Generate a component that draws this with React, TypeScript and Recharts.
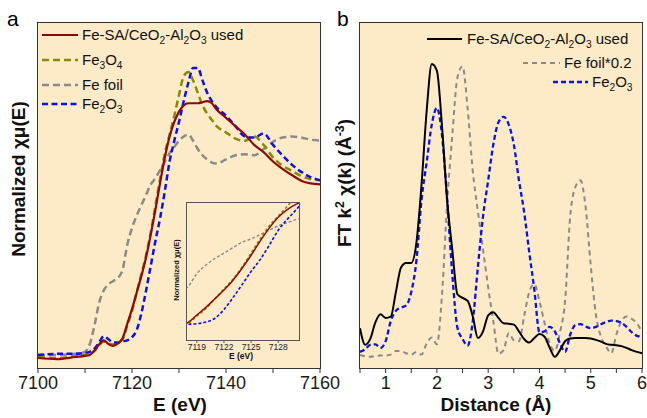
import React from 'react';
import { LineChart, Line, XAxis, YAxis } from 'recharts';

// ---- panel a: Fe K-edge XANES ----
const energy = [7100, 7104, 7108, 7110, 7111, 7112, 7113, 7114, 7115, 7116, 7117, 7118, 7119, 7120, 7121, 7122, 7123, 7124, 7125, 7126, 7127, 7128, 7129, 7130, 7131, 7132, 7133, 7134, 7135, 7136, 7137, 7138, 7140, 7142, 7144, 7146, 7148, 7150, 7152, 7154, 7156, 7158, 7160];
const feSaUsed = [-0.005, -0.01, 0.0, 0.005, 0.01, 0.03, 0.06, 0.08, 0.062, 0.053, 0.065, 0.09, 0.16, 0.23, 0.31, 0.39, 0.48, 0.59, 0.71, 0.84, 0.96, 1.06, 1.13, 1.18, 1.21, 1.22, 1.22, 1.22, 1.225, 1.23, 1.22, 1.19, 1.15, 1.11, 1.07, 1.02, 0.985, 0.94, 0.905, 0.875, 0.848, 0.835, 0.83];
const fe3o4 = [0.0, -0.005, 0.005, 0.01, 0.015, 0.03, 0.055, 0.075, 0.065, 0.06, 0.07, 0.085, 0.15, 0.22, 0.31, 0.4, 0.49, 0.6, 0.73, 0.86, 0.98, 1.07, 1.16, 1.26, 1.35, 1.37, 1.33, 1.27, 1.21, 1.17, 1.14, 1.11, 1.08, 1.05, 1.04, 1.06, 1.02, 0.96, 0.92, 0.895, 0.87, 0.855, 0.85];
const feFoil = [0.01, 0.01, 0.015, 0.025, 0.06, 0.15, 0.26, 0.32, 0.35, 0.365, 0.38, 0.42, 0.54, 0.62, 0.68, 0.73, 0.78, 0.83, 0.86, 0.9, 0.94, 0.98, 1.01, 1.04, 1.06, 1.07, 1.04, 1.0, 0.97, 0.95, 0.935, 0.93, 0.95, 0.97, 0.975, 0.97, 1.0, 1.035, 1.055, 1.06, 1.055, 1.045, 1.04];
const fe2o3 = [0.01, 0.015, 0.015, 0.02, 0.025, 0.04, 0.07, 0.1, 0.085, 0.07, 0.07, 0.075, 0.08, 0.095, 0.13, 0.21, 0.32, 0.44, 0.56, 0.67, 0.8, 0.94, 1.04, 1.13, 1.23, 1.32, 1.39, 1.39, 1.33, 1.27, 1.23, 1.2, 1.16, 1.11, 1.06, 1.055, 1.075, 1.02, 0.97, 0.925, 0.89, 0.865, 0.85];
const energyTicks = [7100, 7110, 7120, 7130, 7140, 7150, 7160];
const insetTicks = [7119, 7122, 7125, 7128];
const xanesYTicks = [0, 0.2, 0.4, 0.6, 0.8, 1.0, 1.2, 1.4, 1.6];

// ---- panel b: FT-EXAFS ----
const distance = [0.5, 0.6, 0.7, 0.8, 0.9, 1.0, 1.1, 1.2, 1.3, 1.4, 1.5, 1.6, 1.7, 1.8, 1.9, 2.0, 2.1, 2.2, 2.3, 2.4, 2.5, 2.6, 2.7, 2.8, 2.9, 3.0, 3.1, 3.2, 3.3, 3.4, 3.5, 3.6, 3.7, 3.8, 3.9, 4.0, 4.1, 4.2, 4.3, 4.4, 4.5, 4.6, 4.7, 4.8, 4.9, 5.0, 5.1, 5.2, 5.3, 5.4, 5.5, 5.6, 5.7, 5.8, 5.9, 6.0];
const ftFeSa = [0.69, 0.32, 0.45, 0.82, 1.0, 0.92, 0.95, 1.5, 2.05, 2.15, 2.15, 2.6, 3.9, 5.55, 6.6, 6.45, 5.2, 3.55, 2.45, 1.45, 1.37, 1.3, 0.95, 0.47, 0.62, 0.98, 1.05, 0.92, 0.8, 0.79, 0.77, 0.62, 0.45, 0.37, 0.47, 0.56, 0.5, 0.25, 0.05, 0.2, 0.4, 0.46, 0.47, 0.47, 0.47, 0.46, 0.43, 0.39, 0.34, 0.32, 0.31, 0.29, 0.25, 0.2, 0.16, 0.13];
const ftFeFoil = [0.09, 0.06, 0.05, 0.07, 0.08, 0.08, 0.1, 0.18, 0.18, 0.13, 0.1, 0.16, 0.1, 0.35, 0.48, 0.33, 1.45, 3.5, 5.0, 6.3, 6.55, 5.6, 4.2, 3.3, 2.45, 1.6, 0.85, 0.12, 0.2, 0.58, 0.42, 0.4, 0.95, 1.5, 1.68, 1.3, 0.8, 0.35, 0.18, 0.6, 1.3, 3.2, 3.85, 4.0, 3.4, 2.1, 1.0, 0.5, 0.28, 0.13, 0.55, 0.85, 0.95, 0.9, 0.8, 0.6];
const ftFe2o3 = [0.16, 0.22, 0.32, 0.33, 0.25, 0.4, 0.85, 1.08, 1.15, 1.2, 1.5, 2.2, 3.56, 4.4, 5.25, 5.62, 5.0, 3.56, 1.9, 0.7, 0.45, 0.3, 0.85, 2.07, 3.2, 4.0, 4.8, 5.3, 5.42, 5.25, 4.8, 4.0, 3.3, 2.4, 1.55, 0.6, 0.62, 0.72, 0.62, 0.35, 0.16, 0.55, 0.76, 0.78, 0.73, 0.69, 0.72, 0.78, 0.83, 0.86, 0.85, 0.81, 0.72, 0.6, 0.52, 0.5];
const distanceTicks = [0.5, 1, 1.5, 2, 2.5, 3, 3.5, 4, 4.5, 5, 5.5, 6];
const ftYTicks = [0, 1, 2, 3, 4, 5, 6, 7];

const xanesRows = energy.map((e, i) => ({ e, sa: feSaUsed[i], o4: fe3o4[i], foil: feFoil[i], o3: fe2o3[i] }));
const ftRows = distance.map((r, i) => ({ r, sa: ftFeSa[i], foil: ftFeFoil[i], o3: ftFe2o3[i] }));

const FONT = 'Arial, "Liberation Sans", Helvetica, sans-serif';
const BG = '#FDEBC8';
const FRAME = '#333';
const RED = '#8E0A0A';
const OLIVE = '#8A8A00';
const GRAY = '#8A8A8A';
const BLUE = '#0A10F5';

const Sub = ({ children }: { children: React.ReactNode }) => (
  <span style={{ fontSize: '0.68em', position: 'relative', top: '0.38em' }}>{children}</span>
);
const Sup = ({ children }: { children: React.ReactNode }) => (
  <span style={{ fontSize: '0.65em', position: 'relative', top: '-0.55em' }}>{children}</span>
);

function Box({ left, top, width, height, fill, border }: { left: number; top: number; width: number; height: number; fill?: string; border?: string }) {
  return (
    <div style={{
      position: 'absolute', left, top, width, height, boxSizing: 'border-box',
      background: fill || 'transparent', border: border || 'none', pointerEvents: 'none',
    }} />
  );
}

function LegendRow({ x1, x2, y, textX, color, dash, sw, children }: { x1: number; x2: number; y: number; textX: number; color: string; dash?: string; sw: number; children: React.ReactNode }) {
  return (
    <>
      <svg style={{ position: 'absolute', left: x1, top: y - 4 }} width={x2 - x1} height={8}>
        <line x1={0} x2={x2 - x1} y1={4} y2={4} stroke={color} strokeWidth={sw} strokeDasharray={dash} />
      </svg>
      <div style={{ position: 'absolute', left: textX, top: y - 9, fontSize: 15, lineHeight: '17px', whiteSpace: 'nowrap', color: '#111' }}>
        {children}
      </div>
    </>
  );
}

function RotLabel({ cx, cy, size, children }: { cx: number; cy: number; size: number; children: React.ReactNode }) {
  return (
    <div style={{
      position: 'absolute', left: cx, top: cy, fontSize: size, fontWeight: 'bold', lineHeight: 1,
      whiteSpace: 'nowrap', transform: 'translate(-50%, -50%) rotate(-90deg)', color: '#111',
    }}>{children}</div>
  );
}

function Label({ cx, top, size, bold, children }: { cx: number; top: number; size: number; bold?: boolean; children: React.ReactNode }) {
  return (
    <div style={{
      position: 'absolute', left: cx, top, fontSize: size, fontWeight: bold ? 'bold' : 'normal', lineHeight: 1,
      whiteSpace: 'nowrap', transform: 'translateX(-50%)', color: '#111',
    }}>{children}</div>
  );
}

const tickStyle = { fontSize: 18, fill: '#1a1a1a', fontFamily: FONT };

export default function App() {
  return (
    <div style={{ position: 'absolute', left: 0, top: 0, width: 647, height: 418, background: '#fff', fontFamily: FONT, overflow: 'hidden' }}>
      <Box left={38} top={23} width={282} height={345} fill={BG} />
      <Box left={360} top={23} width={282} height={345} fill={BG} />

      {/* panel a (wider than its frame so the 7160 label is not cut) */}
      <div style={{ position: 'absolute', left: 0, top: 0 }}>
        <LineChart width={350} height={418} data={xanesRows} margin={{ top: 23, right: 30, left: 0, bottom: 0 }}>
          <XAxis dataKey="e" type="number" domain={[7100, 7160]} ticks={energyTicks} interval={0}
            tickFormatter={v => (v % 20 === 0 ? String(v) : '')} tick={tickStyle}
            axisLine={false} tickLine={{ stroke: FRAME }} tickSize={5} tickMargin={3} height={50} />
          <YAxis type="number" domain={[-0.053, 1.606]} ticks={xanesYTicks} interval={0} tick={false}
            axisLine={false} tickLine={{ stroke: FRAME }} tickSize={5} width={38} />
          <Line type="monotone" dataKey="foil" stroke={GRAY} strokeWidth={2.5} strokeDasharray="7 4" dot={false} isAnimationActive={false} />
          <Line type="monotone" dataKey="o4" stroke={OLIVE} strokeWidth={2.5} strokeDasharray="7 4" dot={false} isAnimationActive={false} />
          <Line type="monotone" dataKey="o3" stroke={BLUE} strokeWidth={2.5} strokeDasharray="6 3.5" dot={false} isAnimationActive={false} />
          <Line type="monotone" dataKey="sa" stroke={RED} strokeWidth={2.2} dot={false} isAnimationActive={false} />
        </LineChart>
      </div>

      {/* panel b */}
      <div style={{ position: 'absolute', left: 330, top: 0 }}>
        <LineChart width={317} height={418} data={ftRows} margin={{ top: 23, right: 5, left: 0, bottom: 0 }}>
          <XAxis dataKey="r" type="number" domain={[0.5, 6]} ticks={distanceTicks} interval={0}
            tickFormatter={v => (Number.isInteger(v) ? String(v) : '')} tick={tickStyle}
            axisLine={false} tickLine={{ stroke: FRAME }} tickSize={5} tickMargin={3} height={50} />
          <YAxis type="number" domain={[-0.2, 7.52]} ticks={ftYTicks} interval={0} tick={false}
            axisLine={false} tickLine={{ stroke: FRAME }} tickSize={5} width={30} />
          <Line type="monotone" dataKey="foil" stroke={GRAY} strokeWidth={2} strokeDasharray="5 4" dot={false} isAnimationActive={false} />
          <Line type="monotone" dataKey="o3" stroke={BLUE} strokeWidth={2.3} strokeDasharray="5 3" dot={false} isAnimationActive={false} />
          <Line type="monotone" dataKey="sa" stroke="#000" strokeWidth={2} dot={false} isAnimationActive={false} />
        </LineChart>
      </div>

      <Box left={37} top={22} width={284} height={347} border={`1.6px solid ${FRAME}`} />
      <Box left={359} top={22} width={284} height={347} border={`1.6px solid ${FRAME}`} />

      {/* inset of panel a */}
      <Box left={186} top={202} width={113} height={138} fill={BG} />
      <div style={{ position: 'absolute', left: 170, top: 195 }}>
        <LineChart width={135} height={170} data={xanesRows} margin={{ top: 7, right: 6, left: 0, bottom: 0 }}>
          <XAxis dataKey="e" type="number" domain={[7117.8, 7130.3]} allowDataOverflow ticks={insetTicks} interval={0}
            tick={{ fontSize: 8.5, fill: '#222', fontFamily: FONT }} axisLine={false}
            tickLine={{ stroke: '#555' }} tickSize={3} tickMargin={1} height={25} />
          <YAxis type="number" domain={[-0.07, 1.2]} allowDataOverflow ticks={[0, 0.2, 0.4, 0.6, 0.8, 1.0]} interval={0}
            tick={false} axisLine={false} tickLine={{ stroke: '#555' }} tickSize={3} width={16} />
          <Line type="monotone" dataKey="foil" stroke={GRAY} strokeWidth={1.4} strokeDasharray="3 2" dot={false} isAnimationActive={false} />
          <Line type="monotone" dataKey="o4" stroke={OLIVE} strokeWidth={1.6} strokeDasharray="3 2" dot={false} isAnimationActive={false} />
          <Line type="monotone" dataKey="o3" stroke={BLUE} strokeWidth={1.6} strokeDasharray="3 2" dot={false} isAnimationActive={false} />
          <Line type="monotone" dataKey="sa" stroke={RED} strokeWidth={1.5} dot={false} isAnimationActive={false} />
        </LineChart>
      </div>
      <Box left={185.5} top={201.5} width={114} height={139} border="1px solid #555" />
      <RotLabel cx={177} cy={270} size={7.5}>Normalized χμ(E)</RotLabel>
      <Label cx={241} top={352} size={8.5} bold>E (eV)</Label>

      {/* legend a */}
      <LegendRow x1={42} x2={78} y={35} textX={82} color={RED} sw={2.2}>Fe-SA/CeO<Sub>2</Sub>-Al<Sub>2</Sub>O<Sub>3</Sub> used</LegendRow>
      <LegendRow x1={42} x2={78} y={60} textX={82} color={OLIVE} sw={2.5} dash="7 4">Fe<Sub>3</Sub>O<Sub>4</Sub></LegendRow>
      <LegendRow x1={42} x2={78} y={85} textX={82} color={GRAY} sw={2.5} dash="7 4">Fe foil</LegendRow>
      <LegendRow x1={42} x2={78} y={104} textX={82} color={BLUE} sw={2.5} dash="6 3.5">Fe<Sub>2</Sub>O<Sub>3</Sub></LegendRow>

      {/* legend b */}
      <LegendRow x1={427} x2={462} y={39} textX={467} color="#000" sw={2}>Fe-SA/CeO<Sub>2</Sub>-Al<Sub>2</Sub>O<Sub>3</Sub> used</LegendRow>
      <LegendRow x1={523} x2={560} y={63} textX={564} color={GRAY} sw={2} dash="5 4">Fe foil*0.2</LegendRow>
      <LegendRow x1={553} x2={588} y={82} textX={592} color={BLUE} sw={2.3} dash="5 3">Fe<Sub>2</Sub>O<Sub>3</Sub></LegendRow>

      {/* axis titles and panel letters */}
      <RotLabel cx={18} cy={179} size={19}>Normalized χμ(E)</RotLabel>
      <RotLabel cx={344} cy={183} size={19}>FT k<Sup>2</Sup> χ(k) (Å<Sup>-3</Sup>)</RotLabel>
      <Label cx={180} top={395} size={19} bold>E (eV)</Label>
      <Label cx={496} top={395} size={19} bold>Distance (Å)</Label>
      <div style={{ position: 'absolute', left: 7, top: 8, fontSize: 21, lineHeight: 1 }}>a</div>
      <div style={{ position: 'absolute', left: 337, top: 8, fontSize: 21, lineHeight: 1 }}>b</div>
    </div>
  );
}
